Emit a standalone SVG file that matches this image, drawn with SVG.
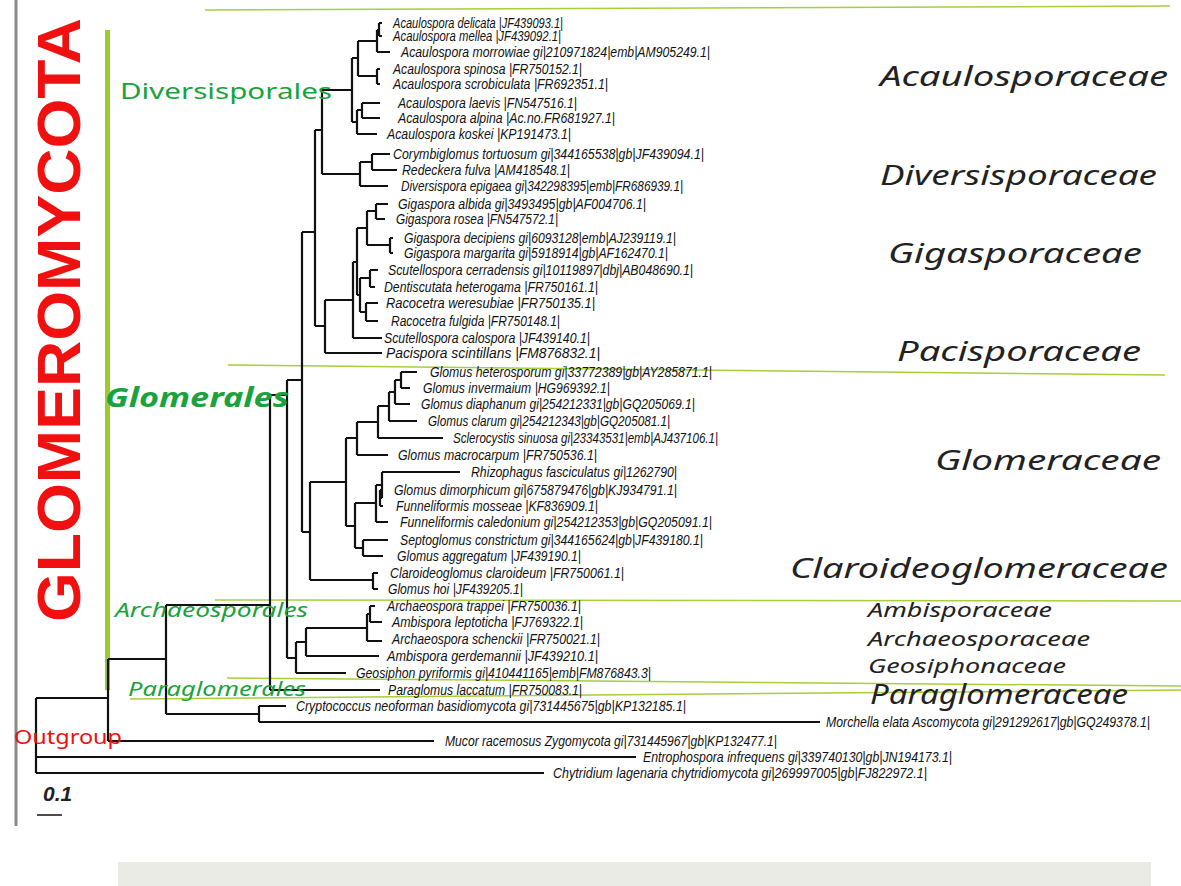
<svg xmlns="http://www.w3.org/2000/svg" width="1181" height="886" viewBox="0 0 1181 886">
<style>
.t{font-family:"Liberation Sans Narrow","Liberation Sans",sans-serif;font-style:italic;font-size:15px;fill:#111}
.f{font-family:"Noto Sans","DejaVu Sans",sans-serif;font-style:italic;font-size:27px;fill:#222}
.fs{font-family:"Noto Sans","DejaVu Sans",sans-serif;font-style:italic;font-size:20px;fill:#222}
.o{font-family:"Noto Sans","DejaVu Sans",sans-serif;fill:#1aa33c}
.g{stroke:#a6cf3a;stroke-width:1.5;fill:none}
</style>
<rect width="1181" height="886" fill="#fff"/>
<line x1="16" y1="0" x2="16" y2="826" stroke="#888" stroke-width="3"/>
<rect x="105" y="30" width="5" height="660" fill="#9ccc2a"/>
<rect x="118" y="862" width="1033" height="24" fill="#ebebe6"/>
<g id="guides">
<line class="g" x1="205" y1="10" x2="1170" y2="6"/>
<line class="g" x1="228" y1="365" x2="1165" y2="375"/>
<line class="g" x1="215" y1="600" x2="1181" y2="601"/>
<line class="g" x1="227" y1="678" x2="1181" y2="686"/>
<line class="g" x1="130" y1="699" x2="1181" y2="690"/>
</g>
<text x="80" y="622" transform="rotate(-90 80 622)" textLength="604" lengthAdjust="spacingAndGlyphs" font-family="Liberation Sans,sans-serif" font-size="62" font-weight="bold" fill="#f01010">GLOMEROMYCOTA</text>
<g id="connectors" fill="none" stroke="#111" stroke-width="2.2">
<path d="M379 23V36M379 23H382M379 36H382M377 30V52M377 30H379M377 52H390M377 69V84M377 69H380M377 84H380M358 41V76M358 41H377M358 76H377M362 103V118M362 103H380M362 118H380M357 110V134M357 110H362M357 134H377M352 58V122M352 58H358M352 122H357"/>
<path d="M372 154V170M372 154H390M372 170H397M360 162V186M360 162H372M360 186H388M322 90V174M322 90H352M322 174H360"/>
<path d="M376 204V219M376 204H388M376 219H385M390 238V253M390 238H393M390 253H393M367 211V245M367 211H376M367 245H390M370 270V287M370 270H378M370 287H375M366 303V321M366 303H378M366 321H378M360 278V312M360 278H370M360 312H366M357 228V295M357 228H367M357 295H360M353 262V338M353 262H357M353 338H382M325 300V353M325 300H353M325 353H382M315 130V326M315 130H322M315 326H325M302 232V532M302 232H315M302 532H310M287 380H302"/>
<path d="M401 372V388M401 372H417M401 388H410M395 380V404M395 380H401M395 404H410M389 392V421M389 392H395M389 421H417M378 406V438M378 406H389M378 438H443M357 422V455M357 422H378M357 455H388M380 490V506M380 490H383M380 506H383M382 472V498M382 472H460M382 498H380M376 485V522M376 485H382M376 522H388M363 540V556M363 540H388M363 556H383M355 503V548M355 503H376M355 548H363M346 438V526M346 438H357M346 526H355M310 482V580M310 482H346M310 580H373M373 573V589M373 573H378M373 589H378"/>
<path d="M370 606V622M370 606H375M370 622H382M367 614V641M367 614H370M367 641H382M306 628V656M306 628H367M306 656H379M296 642V673M296 642H306M296 673H346M287 380V658M287 658H296M270 395V690M270 395H287M270 690H380M259 706V722M259 706H286M259 722H820M166 605V714M166 605H270M166 714H259M108 659V741M108 659H166M108 741H434M36 698V773M36 698H108M36 757H636M36 773H544"/>
<path d="M37 815H62" stroke-width="1.5"/>
</g>
<g id="taxa">
<text class="t" x="393" y="28" textLength="170" lengthAdjust="spacingAndGlyphs">Acaulospora delicata |JF439093.1|</text>
<text class="t" x="393" y="41" textLength="168" lengthAdjust="spacingAndGlyphs">Acaulospora mellea |JF439092.1|</text>
<text class="t" x="401" y="57" textLength="309" lengthAdjust="spacingAndGlyphs">Acaulospora morrowiae gi|210971824|emb|AM905249.1|</text>
<text class="t" x="393" y="74" textLength="189" lengthAdjust="spacingAndGlyphs">Acaulospora spinosa |FR750152.1|</text>
<text class="t" x="393" y="89" textLength="215" lengthAdjust="spacingAndGlyphs">Acaulospora scrobiculata |FR692351.1|</text>
<text class="t" x="398" y="108" textLength="179" lengthAdjust="spacingAndGlyphs">Acaulospora laevis |FN547516.1|</text>
<text class="t" x="398" y="123" textLength="217" lengthAdjust="spacingAndGlyphs">Acaulospora alpina |Ac.no.FR681927.1|</text>
<text class="t" x="387" y="139" textLength="184" lengthAdjust="spacingAndGlyphs">Acaulospora koskei |KP191473.1|</text>
<text class="t" x="393" y="159" textLength="311" lengthAdjust="spacingAndGlyphs">Corymbiglomus tortuosum gi|344165538|gb|JF439094.1|</text>
<text class="t" x="402" y="175" textLength="168" lengthAdjust="spacingAndGlyphs">Redeckera fulva |AM418548.1|</text>
<text class="t" x="401" y="191" textLength="282" lengthAdjust="spacingAndGlyphs">Diversispora epigaea gi|342298395|emb|FR686939.1|</text>
<text class="t" x="398" y="209" textLength="248" lengthAdjust="spacingAndGlyphs">Gigaspora albida gi|3493495|gb|AF004706.1|</text>
<text class="t" x="396" y="224" textLength="162" lengthAdjust="spacingAndGlyphs">Gigaspora rosea |FN547572.1|</text>
<text class="t" x="404" y="243" textLength="272" lengthAdjust="spacingAndGlyphs">Gigaspora decipiens gi|6093128|emb|AJ239119.1|</text>
<text class="t" x="404" y="258" textLength="264" lengthAdjust="spacingAndGlyphs">Gigaspora margarita gi|5918914|gb|AF162470.1|</text>
<text class="t" x="388" y="275" textLength="305" lengthAdjust="spacingAndGlyphs">Scutellospora cerradensis gi|10119897|dbj|AB048690.1|</text>
<text class="t" x="384" y="292" textLength="214" lengthAdjust="spacingAndGlyphs">Dentiscutata heterogama |FR750161.1|</text>
<text class="t" x="386" y="308" textLength="209" lengthAdjust="spacingAndGlyphs">Racocetra weresubiae |FR750135.1|</text>
<text class="t" x="391" y="326" textLength="169" lengthAdjust="spacingAndGlyphs">Racocetra fulgida |FR750148.1|</text>
<text class="t" x="384" y="343" textLength="206" lengthAdjust="spacingAndGlyphs">Scutellospora calospora |JF439140.1|</text>
<text class="t" x="386" y="358" textLength="214" lengthAdjust="spacingAndGlyphs">Pacispora scintillans |FM876832.1|</text>
<text class="t" x="430" y="377" textLength="282" lengthAdjust="spacingAndGlyphs">Glomus heterosporum gi|33772389|gb|AY285871.1|</text>
<text class="t" x="423" y="393" textLength="187" lengthAdjust="spacingAndGlyphs">Glomus invermaium |HG969392.1|</text>
<text class="t" x="421" y="409" textLength="274" lengthAdjust="spacingAndGlyphs">Glomus diaphanum gi|254212331|gb|GQ205069.1|</text>
<text class="t" x="428" y="426" textLength="242" lengthAdjust="spacingAndGlyphs">Glomus clarum gi|254212343|gb|GQ205081.1|</text>
<text class="t" x="453" y="443" textLength="265" lengthAdjust="spacingAndGlyphs">Sclerocystis sinuosa gi|23343531|emb|AJ437106.1|</text>
<text class="t" x="398" y="460" textLength="199" lengthAdjust="spacingAndGlyphs">Glomus macrocarpum |FR750536.1|</text>
<text class="t" x="471" y="477" textLength="206" lengthAdjust="spacingAndGlyphs">Rhizophagus fasciculatus gi|1262790|</text>
<text class="t" x="394" y="495" textLength="283" lengthAdjust="spacingAndGlyphs">Glomus dimorphicum gi|675879476|gb|KJ934791.1|</text>
<text class="t" x="396" y="511" textLength="202" lengthAdjust="spacingAndGlyphs">Funneliformis mosseae |KF836909.1|</text>
<text class="t" x="400" y="527" textLength="312" lengthAdjust="spacingAndGlyphs">Funneliformis caledonium gi|254212353|gb|GQ205091.1|</text>
<text class="t" x="400" y="545" textLength="303" lengthAdjust="spacingAndGlyphs">Septoglomus constrictum gi|344165624|gb|JF439180.1|</text>
<text class="t" x="397" y="561" textLength="184" lengthAdjust="spacingAndGlyphs">Glomus aggregatum |JF439190.1|</text>
<text class="t" x="390" y="578" textLength="234" lengthAdjust="spacingAndGlyphs">Claroideoglomus claroideum |FR750061.1|</text>
<text class="t" x="388" y="594" textLength="135" lengthAdjust="spacingAndGlyphs">Glomus hoi |JF439205.1|</text>
<text class="t" x="387" y="611" textLength="194" lengthAdjust="spacingAndGlyphs">Archaeospora trappei |FR750036.1|</text>
<text class="t" x="392" y="627" textLength="191" lengthAdjust="spacingAndGlyphs">Ambispora leptoticha |FJ769322.1|</text>
<text class="t" x="392" y="644" textLength="208" lengthAdjust="spacingAndGlyphs">Archaeospora schenckii |FR750021.1|</text>
<text class="t" x="387" y="661" textLength="211" lengthAdjust="spacingAndGlyphs">Ambispora gerdemannii |JF439210.1|</text>
<text class="t" x="356" y="678" textLength="295" lengthAdjust="spacingAndGlyphs">Geosiphon pyriformis gi|410441165|emb|FM876843.3|</text>
<text class="t" x="388" y="695" textLength="194" lengthAdjust="spacingAndGlyphs">Paraglomus laccatum |FR750083.1|</text>
<text class="t" x="296" y="711" textLength="390" lengthAdjust="spacingAndGlyphs">Cryptococcus neoforman basidiomycota gi|731445675|gb|KP132185.1|</text>
<text class="t" x="826" y="727" textLength="324" lengthAdjust="spacingAndGlyphs">Morchella elata Ascomycota gi|291292617|gb|GQ249378.1|</text>
<text class="t" x="445" y="746" textLength="332" lengthAdjust="spacingAndGlyphs">Mucor racemosus Zygomycota gi|731445967|gb|KP132477.1|</text>
<text class="t" x="643" y="762" textLength="309" lengthAdjust="spacingAndGlyphs">Entrophospora infrequens gi|339740130|gb|JN194173.1|</text>
<text class="t" x="553" y="778" textLength="374" lengthAdjust="spacingAndGlyphs">Chytridium lagenaria chytridiomycota gi|269997005|gb|FJ822972.1|</text>
<text x="43" y="801" style="font-family:'Liberation Sans Narrow','Liberation Sans',sans-serif;font-style:italic;font-size:21px;font-weight:bold;fill:#222">0.1</text>
</g>
<g id="orders">
<text class="o" x="120" y="99" font-size="22" textLength="212" lengthAdjust="spacingAndGlyphs">Diversisporales</text>
<text class="o" x="105" y="407" font-size="27" font-style="italic" font-weight="bold" textLength="184" lengthAdjust="spacingAndGlyphs">Glomerales</text>
<text class="o" x="115" y="617" font-size="20" font-style="italic" textLength="193" lengthAdjust="spacingAndGlyphs">Archaeosporales</text>
<text class="o" x="128" y="696" font-size="20" font-style="italic" textLength="178" lengthAdjust="spacingAndGlyphs">Paraglomerales</text>
<text x="14" y="744" font-family="Noto Sans,sans-serif" font-size="19" fill="#f01010" textLength="108" lengthAdjust="spacingAndGlyphs">Outgroup</text>
</g>
<g id="families">
<text class="f" x="880" y="86" textLength="288" lengthAdjust="spacingAndGlyphs">Acaulosporaceae</text>
<text class="f" x="880" y="185" textLength="277" lengthAdjust="spacingAndGlyphs">Diversisporaceae</text>
<text class="f" x="888" y="263" textLength="254" lengthAdjust="spacingAndGlyphs">Gigasporaceae</text>
<text class="f" x="897" y="361" textLength="244" lengthAdjust="spacingAndGlyphs">Pacisporaceae</text>
<text class="f" x="935" y="470" textLength="226" lengthAdjust="spacingAndGlyphs">Glomeraceae</text>
<text class="f" x="790" y="578" textLength="378" lengthAdjust="spacingAndGlyphs">Claroideoglomeraceae</text>
<text class="fs" x="868" y="617" textLength="184" lengthAdjust="spacingAndGlyphs">Ambisporaceae</text>
<text class="fs" x="868" y="646" textLength="222" lengthAdjust="spacingAndGlyphs">Archaeosporaceae</text>
<text class="fs" x="868" y="673" textLength="198" lengthAdjust="spacingAndGlyphs">Geosiphonaceae</text>
<text class="f" x="870" y="704" textLength="258" lengthAdjust="spacingAndGlyphs">Paraglomeraceae</text>
</g>
</svg>
